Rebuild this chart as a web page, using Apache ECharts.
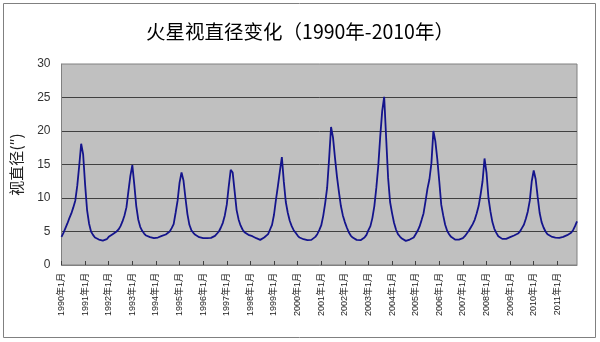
<!DOCTYPE html>
<html>
<head>
<meta charset="utf-8">
<script src="https://cdn.jsdelivr.net/npm/echarts@6/dist/echarts.min.js"></script>
<style>
  html, body { margin: 0; padding: 0; background: #fff; }
  #chart { width: 600px; height: 342px; }
</style>
</head>
<body>
<div id="chart"></div>
<script>
// Apparent diameter of Mars (arc-seconds), sampled monthly, Jan 1990 – Nov 2011
const d1990 = [4.2, 4.8, 5.5, 6.2, 7.0, 7.7, 8.6, 9.6, 11.8, 14.8, 18.1, 16.5];
const d1991 = [12.0, 8.2, 6.2, 5.0, 4.5, 4.1, 3.9, 3.8, 3.7, 3.65, 3.7, 3.85];
const d1992 = [4.2, 4.4, 4.6, 4.8, 5.0, 5.3, 5.8, 6.5, 7.4, 8.6, 11.0, 13.3];
const d1993 = [14.9, 12.0, 8.8, 6.8, 5.7, 5.1, 4.7, 4.4, 4.25, 4.15, 4.05, 4.0];
const d1994 = [4.0, 4.1, 4.2, 4.35, 4.4, 4.55, 4.7, 5.0, 5.5, 6.1, 7.8, 9.6];
const d1995 = [12.3, 13.8, 12.6, 10.0, 7.6, 6.0, 5.2, 4.8, 4.5, 4.25, 4.15, 4.05];
const d1996 = [4.0, 4.0, 4.0, 4.0, 4.05, 4.15, 4.35, 4.5, 5.0, 5.6, 6.3, 7.4];
const d1997 = [9.0, 11.75, 14.2, 13.8, 11.0, 8.2, 6.8, 5.9, 5.3, 4.9, 4.7, 4.5];
const d1998 = [4.4, 4.3, 4.15, 4.0, 3.85, 3.75, 3.9, 4.1, 4.25, 4.6, 5.3, 6.0];
const d1999 = [7.5, 9.75, 11.8, 14.0, 16.1, 12.4, 9.4, 7.8, 6.6, 5.8, 5.2, 4.8];
const d2000 = [4.4, 4.1, 3.95, 3.85, 3.75, 3.7, 3.65, 3.75, 3.95, 4.2, 4.6, 5.2];
const d2001 = [5.9, 7.3, 9.2, 11.5, 15.8, 20.6, 19.0, 16.0, 13.2, 10.9, 8.8, 7.4];
const d2002 = [6.4, 5.6, 4.9, 4.4, 4.1, 3.85, 3.75, 3.7, 3.7, 3.75, 4.1, 4.5];
const d2003 = [5.2, 5.8, 7.0, 8.8, 11.5, 14.8, 19.2, 23.0, 25.1, 19.0, 13.0, 9.4];
const d2004 = [7.75, 6.3, 5.3, 4.6, 4.25, 3.95, 3.75, 3.6, 3.65, 3.8, 3.95, 4.1];
const d2005 = [4.6, 5.1, 5.75, 6.7, 7.7, 9.5, 11.4, 12.8, 15.2, 20.0, 18.5, 15.8];
const d2006 = [12.5, 9.0, 7.4, 6.0, 5.1, 4.6, 4.2, 3.95, 3.8, 3.75, 3.8, 3.9];
const d2007 = [4.0, 4.3, 4.7, 5.1, 5.6, 6.1, 6.75, 7.7, 8.8, 10.5, 12.5, 15.9];
const d2008 = [13.8, 10.0, 8.0, 6.4, 5.4, 4.8, 4.3, 4.05, 3.9, 3.85, 3.9, 4.0];
const d2009 = [4.15, 4.25, 4.4, 4.55, 4.7, 5.0, 5.5, 6.0, 6.9, 8.0, 9.6, 12.5];
const d2010 = [14.1, 12.8, 10.2, 7.8, 6.4, 5.6, 5.0, 4.6, 4.4, 4.25, 4.15, 4.1];
const d2011 = [4.05, 4.05, 4.1, 4.2, 4.3, 4.45, 4.6, 4.8, 5.2, 5.8, 6.5];

const yearly = [d1990, d1991, d1992, d1993, d1994, d1995, d1996, d1997, d1998, d1999, d2000,
                d2001, d2002, d2003, d2004, d2005, d2006, d2007, d2008, d2009, d2010, d2011];
const firstYear = 1990;

// Month categories such as "1990年1月"; only every January is labelled
const categories = [];
const diameters = [];
yearly.forEach((arr, k) => {
  arr.forEach((v, m) => {
    categories.push((firstYear + k) + '年' + (m + 1) + '月');
    diameters.push(v);
  });
});

const titleText = '火星视直径变化（1990年-2010年）';
const yName = '视直径(″)';

const chart = echarts.init(document.getElementById('chart'), null, { renderer: 'canvas' });
chart.setOption({
  animation: false,
  backgroundColor: '#ffffff',
  title: {
    text: titleText,
    left: 'center',
    top: 17,
    textStyle: { fontSize: 19.5, fontWeight: 'normal', color: '#000',
                 fontFamily: '"Noto Sans CJK SC", sans-serif' }
  },
  grid: {
    left: 61.5, right: 23, top: 64, bottom: 77,
    show: true, backgroundColor: '#c0c0c0', borderColor: '#808080', borderWidth: 1
  },
  xAxis: {
    type: 'category',
    data: categories,
    boundaryGap: false,
    axisLine: { lineStyle: { color: '#808080', width: 1 } },
    axisTick: { interval: 11, inside: true, length: 4, lineStyle: { color: '#404040' } },
    axisLabel: {
      interval: 11, rotate: 90, fontSize: 9, margin: 8, color: '#222',
      fontFamily: '"Liberation Sans", "Noto Sans CJK SC", sans-serif'
    },
    splitLine: { show: false }
  },
  yAxis: {
    type: 'value',
    min: 0, max: 30, interval: 5,
    name: yName,
    nameLocation: 'middle',
    nameGap: 38,
    nameRotate: 90,
    nameTextStyle: { fontSize: 15, color: '#222', fontFamily: '"Noto Sans CJK SC", sans-serif' },
    axisLine: { show: true, lineStyle: { color: '#808080' } },
    axisTick: { show: false },
    axisLabel: { fontSize: 12, color: '#333', margin: 11,
                 fontFamily: '"Liberation Sans", Arial, sans-serif' },
    splitLine: { show: true, showMinLine: false, showMaxLine: false,
                 lineStyle: { color: '#404040', width: 1 } }
  },
  series: [{
    type: 'line',
    data: diameters,
    showSymbol: false,
    smooth: false,
    lineStyle: { color: '#14148c', width: 1.8 },
    z: 3
  }],
  graphic: [{
    type: 'rect',
    silent: true,
    shape: { x: 3.5, y: 3.5, width: 592, height: 334 },
    style: { fill: null, stroke: '#808080', lineWidth: 1 }
  }]
});
</script>
</body>
</html>
